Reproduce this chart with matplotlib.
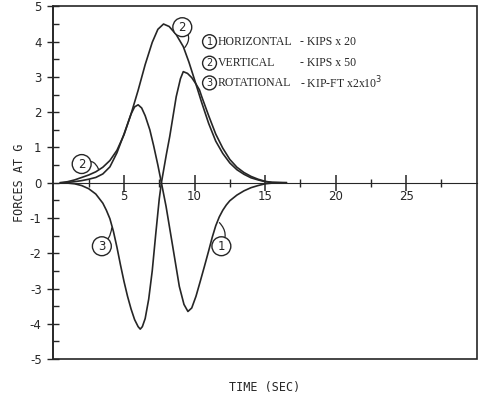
import matplotlib
matplotlib.use('Agg')
import matplotlib.pyplot as plt
from matplotlib.patches import Rectangle

plt.rcParams['axes.unicode_minus'] = False

# (1) horizontal - kips x 20
t_horiz = [0.5, 1.0, 1.5, 2.0, 2.5, 3.0, 3.5, 4.0, 4.5, 5.0, 5.5, 5.75, 6.0, 6.25, 6.5,
           6.83, 7.1, 7.4, 7.65, 7.98, 8.45, 8.92, 9.25, 9.53, 9.8, 10.1, 10.4, 10.7,
           11.0, 11.25, 11.5, 11.75, 12.0, 12.25, 12.5, 13.0, 13.5, 14.0, 14.5, 15.0,
           15.5, 16.5]
f_horiz = [0.0, 0.01, 0.03, 0.06, 0.10, 0.15, 0.25, 0.45, 0.85, 1.38, 1.95, 2.15, 2.21,
           2.12, 1.9, 1.5, 1.05, 0.5, 0.0, -0.67, -1.8, -2.94, -3.45, -3.65, -3.55, -3.22,
           -2.8, -2.37, -1.93, -1.55, -1.22, -0.97, -0.78, -0.63, -0.51, -0.35, -0.23,
           -0.14, -0.08, -0.03, -0.01, 0.0]

# (2) vertical - kips x 50
t_vert = [0.5, 1.0, 1.5, 2.0, 2.5, 3.0, 3.5, 4.0, 4.5, 5.0, 5.5, 6.0, 6.5, 7.0, 7.4, 7.8,
          8.2, 8.7, 9.2, 9.6, 10.0, 10.5, 11.0, 11.5, 12.0, 12.5, 13.0, 13.5, 14.0, 14.5,
          15.0, 15.5, 16.5]
f_vert = [0.0, 0.03, 0.08, 0.15, 0.22, 0.31, 0.44, 0.63, 0.92, 1.36, 1.95, 2.62, 3.35,
          3.98, 4.35, 4.5, 4.43, 4.2, 3.86, 3.42, 2.92, 2.28, 1.68, 1.18, 0.83, 0.56, 0.37,
          0.24, 0.14, 0.08, 0.03, 0.01, 0.0]

# (3) rotational - kip-ft x2x10^3
t_rot = [0.5, 1.0, 1.5, 2.0, 2.5, 3.0, 3.5, 3.75, 4.0, 4.25, 4.5, 4.75, 5.0, 5.25, 5.5,
         5.75, 6.0, 6.15, 6.3, 6.5, 6.75, 7.0, 7.25, 7.5, 7.65, 8.0, 8.24, 8.7, 9.0, 9.2,
         9.5, 9.8, 10.1, 10.35, 10.5, 11.0, 11.5, 12.0, 12.5, 13.0, 13.5, 14.0, 14.5,
         15.0, 15.5, 16.5]
f_rot = [0.0, -0.01, -0.03, -0.08, -0.17, -0.32, -0.58, -0.78, -1.02, -1.38, -1.83, -2.33,
         -2.8, -3.22, -3.58, -3.88, -4.08, -4.15, -4.08, -3.85, -3.3, -2.5, -1.45, -0.45,
         0.0, 0.8, 1.31, 2.44, 2.95, 3.15, 3.1, 2.98, 2.8, 2.63, 2.45, 1.9, 1.38, 0.98,
         0.66, 0.44, 0.29, 0.18, 0.1, 0.04, 0.01, 0.0]

x_major = [5, 10, 15, 20, 25]
x_labels = ['5', '10', '15', '20', '25']
x_minor = [2.5, 7.5, 12.5, 17.5, 22.5, 27.5]
y_major = [-5, -4, -3, -2, -1, 0, 1, 2, 3, 4, 5]
y_labels = [str(v) for v in y_major]
y_minor = [v + 0.5 for v in range(-5, 5)]

legend_names = ['HORIZONTAL', 'VERTICAL', 'ROTATIONAL']
legend_units = ['- KIPS x 20', '- KIPS x 50', '- KIP-FT x2x10$^3$']

ink = '#262626'

fig = plt.figure(figsize=(4.86, 3.99), dpi=100)
ax = fig.add_axes([0.110, 0.100, 0.871, 0.884])
ax.set_xlim(0, 30)
ax.set_ylim(-5, 5)

for name in ['top', 'right']:
    ax.spines[name].set_visible(False)
ax.spines['bottom'].set_position(('data', 0))
ax.spines['bottom'].set_color(ink)
ax.spines['left'].set_color(ink)
ax.spines['left'].set_linewidth(1.2)
ax.add_patch(Rectangle((0, 0), 1, 1, transform=ax.transAxes, fill=False,
                       lw=1.2, ec=ink, clip_on=False))

ax.plot(t_horiz, f_horiz, color=ink, lw=1.2)
ax.plot(t_vert, f_vert, color=ink, lw=1.2)
ax.plot(t_rot, f_rot, color=ink, lw=1.2)

ax.set_xticks(x_major)
ax.set_xticklabels(x_labels)
ax.set_xticks(x_minor, minor=True)
ax.set_yticks(y_major)
ax.set_yticklabels(y_labels)
ax.set_yticks(y_minor, minor=True)
ax.tick_params(axis='x', which='major', direction='inout', length=11, width=1.1,
               color=ink, pad=0, labelsize=8.5, labelcolor=ink)
ax.tick_params(axis='x', which='minor', direction='inout', length=6, width=1, color=ink)
ax.tick_params(axis='y', which='major', direction='inout', length=9, width=1,
               color=ink, pad=4, labelsize=8.5, labelcolor=ink)
ax.tick_params(axis='y', which='minor', direction='in', length=4, width=1, color=ink)

ax.set_xlabel('TIME (SEC)', family='DejaVu Sans Mono', fontsize=8.5, color=ink)
ax.xaxis.set_label_coords(0.5, -0.062)
ax.set_ylabel('FORCES AT G', family='DejaVu Sans Mono', fontsize=8.5, color=ink)
ax.yaxis.set_label_coords(-0.066, 0.5)

# legend block, written like the hand-lettered note
circ = dict(boxstyle='circle,pad=0.2', fc='white', ec=ink, lw=1)
leg_y = [4.0, 3.39, 2.83]
for i in range(3):
    ax.text(11.06, leg_y[i], str(i + 1), ha='center', va='center', fontsize=7,
            color=ink, bbox=circ)
    ax.text(11.63, leg_y[i], legend_names[i], ha='left', va='center', fontsize=8.5,
            family='Liberation Serif', color=ink)
    ax.text(17.5, leg_y[i], legend_units[i], ha='left', va='center', fontsize=8.5,
            family='Liberation Serif', color=ink)

# curve call-outs: leader starts under the circle, circle drawn on top
tag = dict(boxstyle='circle,pad=0.25', fc='white', ec=ink, lw=1)
lead = dict(arrowstyle='-', color=ink, lw=0.9, shrinkA=0, shrinkB=0)
callouts = [
    ('2', (9.13, 4.41), (9.3, 3.83), -0.5),
    ('2', (2.0, 0.53), (3.2, 0.38), -0.6),
    ('3', (3.43, -1.8), (4.13, -1.28), 0.2),
    ('1', (11.9, -1.8), (11.76, -1.13), 0.4),
]
for num, centre, point, rad in callouts:
    ax.annotate('', xy=point, xytext=centre, zorder=2,
                arrowprops=dict(lead, connectionstyle='arc3,rad=%s' % rad))
    ax.text(centre[0], centre[1], num, ha='center', va='center', fontsize=8.5,
            color=ink, bbox=tag, zorder=4)

fig.savefig('out.png', dpi=100, facecolor='white')
